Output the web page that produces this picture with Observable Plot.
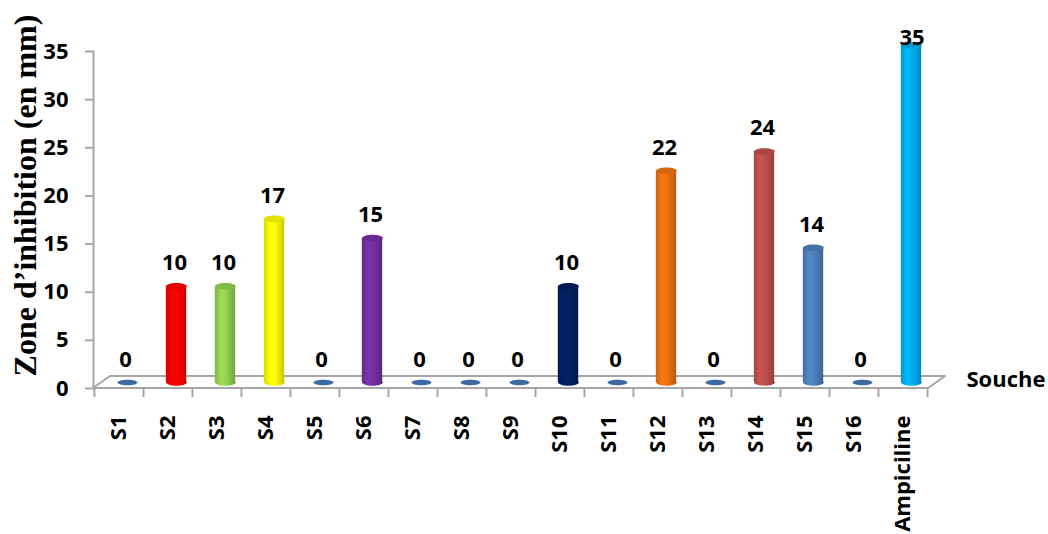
<!DOCTYPE html>
<html>
<head>
<meta charset="utf-8">
<script src="https://cdn.jsdelivr.net/npm/d3@7"></script>
<script src="https://cdn.jsdelivr.net/npm/@observablehq/plot@0.6"></script>
<style>
  html, body { margin: 0; padding: 0; background: #fff; }
  #chart svg { display: block; }
</style>
</head>
<body>
<div id="chart"></div>
<script>
// Strains tested and their inhibition zone diameters (mm)
const souches = ["S1", "S2", "S3", "S4", "S5", "S6", "S7", "S8", "S9", "S10",
                 "S11", "S12", "S13", "S14", "S15", "S16", "Ampiciline"];
const zones = [0, 10, 10, 17, 0, 15, 0, 0, 0, 10, 0, 22, 0, 24, 14, 0, 35];
const couleurs = ["#4f81bd", "#ff0000", "#95d251", "#ffff00", "#4f81bd", "#7332a3",
                  "#4f81bd", "#4f81bd", "#4f81bd", "#002060", "#4f81bd", "#ef7212",
                  "#4f81bd", "#c0504d", "#4f81bd", "#4f81bd", "#00b0f0"];
const yTicks = [0, 5, 10, 15, 20, 25, 30, 35];
const titreY = "Zone d\u2019inhibition (en mm)";
const titreX = "Souche";

const data = souches.map((s, i) => ({souche: s, zone: zones[i], couleur: couleurs[i], i}));
const bars = data.filter(d => d.zone > 0);
const zeros = data.filter(d => d.zone === 0);

// layout
const W = 1048, H = 534;
const mL = 93, mR = 120, mT = 51, mB = 146;
const bw = (W - mL - mR) / souches.length;
const depthX = 17, depthY = -12;          // floor depth (3-D look)
const offX = 8.5, offY = -6;              // bars stand in the middle of the floor
const barW = 20.5;
const inset = (bw - barW) / 2;
const grey = "#a6a6a6";
const sans = "'Open Sans', Lato, sans-serif";

// elliptical symbol for cylinder caps
const ellipse = (a, b) => ({
  draw(ctx) {
    const k = 0.5523;
    ctx.moveTo(a, 0);
    ctx.bezierCurveTo(a, b * k, a * k, b, 0, b);
    ctx.bezierCurveTo(-a * k, b, -a, b * k, -a, 0);
    ctx.bezierCurveTo(-a, -b * k, -a * k, -b, 0, -b);
    ctx.bezierCurveTo(a * k, -b, a, -b * k, a, 0);
    ctx.closePath();
  }
});

const gradId = d => `url(#cyl-${d.i})`;
const capColor = d => d3.color(d.couleur).darker(0.35).formatHex();

// gradient definitions and 3-D floor
function floor(index, scales, values, dims) {
  const g = d3.create("svg:g");
  const defs = g.append("defs");
  for (const d of bars) {
    const c = d3.color(d.couleur);
    const lg = defs.append("linearGradient").attr("id", `cyl-${d.i}`)
      .attr("x1", 0).attr("x2", 1).attr("y1", 0).attr("y2", 0);
    lg.append("stop").attr("offset", "0%").attr("stop-color", c.darker(0.45).formatHex());
    lg.append("stop").attr("offset", "30%").attr("stop-color", c.brighter(0.15).formatHex());
    lg.append("stop").attr("offset", "55%").attr("stop-color", c.formatHex());
    lg.append("stop").attr("offset", "100%").attr("stop-color", c.darker(0.7).formatHex());
  }
  const x0 = dims.marginLeft, x1 = dims.width - dims.marginRight, y0 = scales.y(0);
  g.append("path")
    .attr("d", `M${x0},${y0}L${x1},${y0}L${x1 + depthX},${y0 + depthY}L${x0 + depthX},${y0 + depthY}Z`)
    .attr("fill", "#fff")
    .attr("stroke", grey)
    .attr("stroke-width", 2)
    .attr("stroke-linejoin", "round");
  return g.node();
}

const noText = () => "";

const chart = Plot.plot({
  width: W,
  height: H,
  marginLeft: mL,
  marginRight: mR,
  marginTop: mT,
  marginBottom: mB,
  style: {background: "#fff", overflow: "visible"},
  x: {type: "band", domain: souches, padding: 0, axis: null},
  y: {domain: [0, 35], axis: null},
  color: {type: "identity"},
  marks: [
    floor,
    Plot.frame({anchor: "left", stroke: grey, strokeWidth: 2}),
    // y axis: tick marks, then labels
    Plot.axisY({ticks: yTicks, tickSize: 8, tickFormat: noText, label: null, color: grey, strokeWidth: 2}),
    Plot.axisY({ticks: yTicks, tickSize: 0, tickPadding: 25, label: null, color: "#000",
                fontSize: 22, fontWeight: "bold", fontFamily: sans}),
    // category separators on the front edge of the floor
    Plot.axisX({tickSize: 9, dx: -bw / 2, tickFormat: noText, label: null, color: grey, strokeWidth: 2}),
    Plot.axisX({ticks: [souches[souches.length - 1]], tickSize: 9, dx: bw / 2, tickFormat: noText,
                label: null, color: grey, strokeWidth: 2}),
    Plot.axisX({tickRotate: -90, tickSize: 0, tickPadding: 27, label: null, color: "#000",
                fontSize: 22, fontWeight: "bold", fontFamily: sans}),
    // flat discs for zero values
    Plot.dot(zeros, {x: "souche", y: "zone", dx: offX, dy: offY, symbol: ellipse(10, 2.8),
                     r: 5, fill: "#3d6aa3", stroke: null}),
    // cylinders: bottom cap, body, top cap
    Plot.dot(bars, {x: "souche", y: () => 0, dx: offX, dy: offY, symbol: ellipse(barW / 2, 3.2),
                    r: 5, fill: gradId, stroke: null}),
    Plot.barY(bars, {x: "souche", y: "zone", dx: offX, dy: offY, insetLeft: inset, insetRight: inset,
                     fill: gradId}),
    Plot.dot(bars, {x: "souche", y: "zone", dx: offX, dy: offY, symbol: ellipse(barW / 2, 3.2),
                    r: 5, fill: capColor, stroke: null}),
    // value labels
    Plot.text(data, {filter: d => d.zone < 30, x: "souche", y: "zone", text: d => String(d.zone),
                     dx: 6.5, dy: -29, fontSize: 22, fontWeight: "bold", fontFamily: sans, fill: "#000"}),
    Plot.text(data, {filter: d => d.zone >= 30, x: "souche", y: "zone", text: d => String(d.zone),
                     dx: 9, dy: -14, fontSize: 22, fontWeight: "bold", fontFamily: sans, fill: "#000"}),
    // axis titles
    Plot.text([titreY], {frameAnchor: "left", text: d => d, rotate: -90, dx: -68, dy: -24.5,
                         textAnchor: "middle", lineAnchor: "middle", fontSize: 32, fontWeight: "bold",
                         fontFamily: "'Liberation Serif', 'Times New Roman', serif", fill: "#000"}),
    Plot.text([titreX], {frameAnchor: "bottom-right", text: d => d, textAnchor: "start",
                         dx: 38, dy: -9, lineAnchor: "middle", fontSize: 22, fontWeight: "bold",
                         fontFamily: sans, fill: "#000"})
  ]
});

document.getElementById("chart").appendChild(chart);
</script>
</body>
</html>
